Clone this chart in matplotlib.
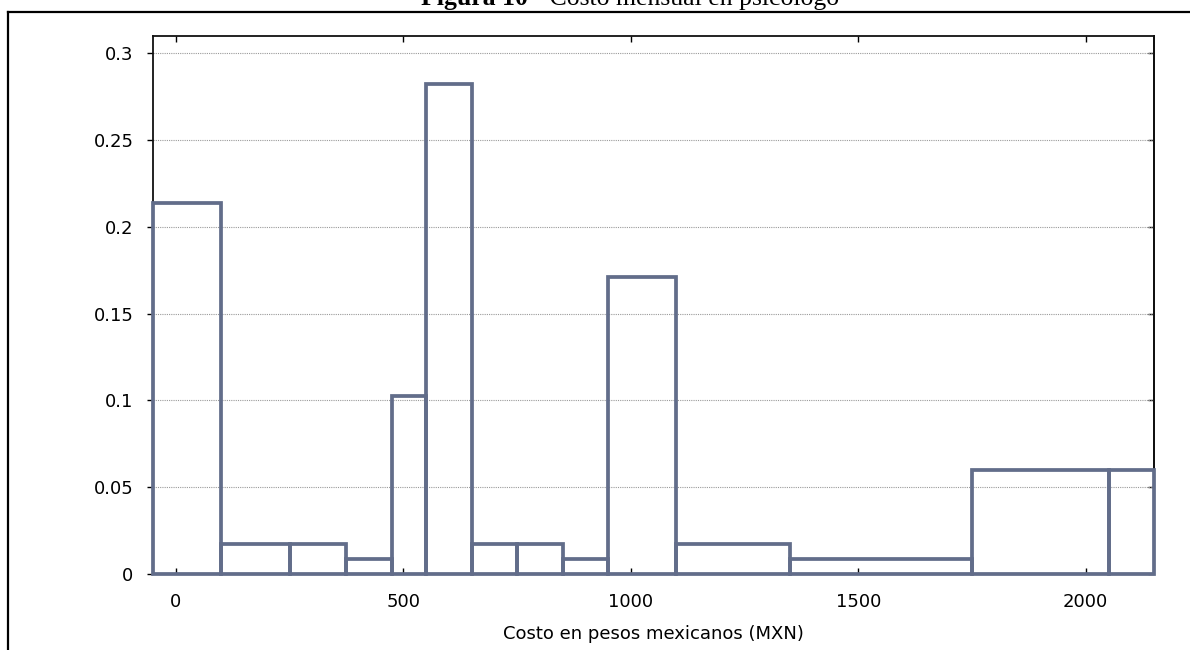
import matplotlib
matplotlib.use("Agg")
import matplotlib.pyplot as plt
from matplotlib.lines import Line2D

# ---------- data ----------
bin_edges = [-50, 100, 250, 375, 475, 550, 650, 750, 850, 950, 1100, 1350, 1750, 2050, 2150]
proportions = [0.2137, 0.0171, 0.0171, 0.0085, 0.1026, 0.2821, 0.0171,
               0.0171, 0.0085, 0.1709, 0.0171, 0.0085, 0.0598, 0.0598]
x_ticks = [0, 500, 1000, 1500, 2000]
y_ticks = [0, 0.05, 0.1, 0.15, 0.2, 0.25, 0.3]
title_bold = "Figura 10"
title_rest = " - Costo mensual en psicólogo"
x_label = "Costo en pesos mexicanos (MXN)"

BAR_COLOR = "#626d8a"
W, H = 1190, 650

plt.rcParams["font.family"] = ["DejaVu Sans"]
fig = plt.figure(figsize=(W / 100, H / 100), dpi=100)
ax = fig.add_axes([153 / W, 1 - 574 / H, (1154 - 153) / W, (574 - 36) / H])

lefts = bin_edges[:-1]
widths = [b - a for a, b in zip(bin_edges[:-1], bin_edges[1:])]
ax.bar(lefts, proportions, width=widths, align="edge", facecolor="none",
       edgecolor=BAR_COLOR, linewidth=2.7, zorder=3, clip_on=False)

ax.set_xlim(bin_edges[0], bin_edges[-1])
ax.set_ylim(0, 0.31)
ax.set_xticks(x_ticks)
ax.set_yticks(y_ticks)
ax.set_yticklabels([f"{v:g}" for v in y_ticks])
ax.yaxis.grid(True, linestyle=(0, (1, 1)), color="#9a9a9a", linewidth=0.8, zorder=0)
ax.set_axisbelow(True)

for s in ax.spines.values():
    s.set_linewidth(1.3)
    s.set_color("#111111")

ax.tick_params(axis="x", direction="in", top=True, length=4, width=1,
               labelsize=13, pad=14)
ax.tick_params(axis="y", direction="out", length=4, width=1, labelsize=13, pad=10)
sec = ax.secondary_yaxis("right")
sec.set_yticks(y_ticks)
sec.tick_params(direction="in", length=4, width=1, labelright=False)
sec.spines["right"].set_linewidth(1.3)

ax.set_xlabel(x_label, fontsize=13)
ax.xaxis.set_label_coords(0.5, -0.095)

# page frame around the figure
y_top = 1 - 12 / H
x_left = 8 / W
fig.add_artist(Line2D([x_left, 1], [y_top, y_top], color="black", linewidth=1.6))
fig.add_artist(Line2D([x_left, x_left], [y_top, 0], color="black", linewidth=1.6))

# caption, cut off at the top edge
fig.canvas.draw()
renderer = fig.canvas.get_renderer()
cap_y = 1 - 5 / H
t1 = fig.text(0, cap_y, title_bold, family="Liberation Serif", weight="bold",
              fontsize=18.5, va="baseline", ha="left")
t2 = fig.text(0, cap_y, title_rest, family="Liberation Serif",
              fontsize=18.5, va="baseline", ha="left")
w1 = t1.get_window_extent(renderer).width
w2 = t2.get_window_extent(renderer).width
x0 = 630 - (w1 + w2) / 2
t1.set_x(x0 / W)
t2.set_x((x0 + w1) / W)

fig.savefig("out.png", dpi=100)
